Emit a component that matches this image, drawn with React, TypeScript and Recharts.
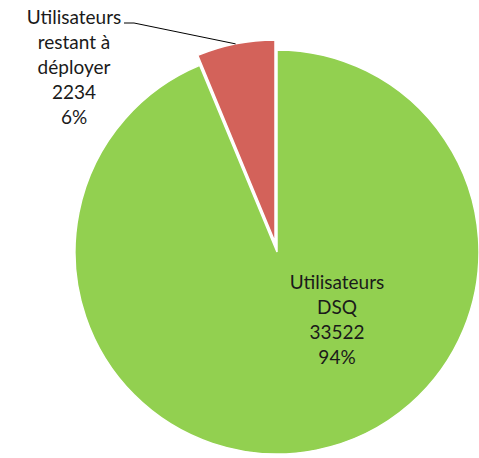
import { Cell, Pie, PieChart } from 'recharts'

const labelLines = [['Utilisateurs', 'DSQ'], ['Utilisateurs', 'restant à', 'déployer']]
const values = [33522, 2234]
const percents = ['94%', '6%']
const colors = ['#92D050', '#D3625A']

const data = labelLines.map((lines, i) => ({
  name: lines.join(' '),
  lines,
  value: values[i],
  percent: percents[i]
}))

const FONT = 'Lato, sans-serif'
const SIZE = 19
const LINE = 25

function GreenLabel(props: any) {
  if (props.index !== 0) return null
  const { cx, cy, payload } = props
  const x = cx + 60
  const y0 = cy + 37
  const rows = [...payload.lines, String(payload.value), payload.percent]
  return (
    <text x={x} y={y0} textAnchor="middle" fontFamily={FONT} fontSize={SIZE} fill="#1a1a1a">
      {rows.map((r: string, i: number) => (
        <tspan key={i} x={x} y={y0 + i * LINE}>{r}</tspan>
      ))}
    </text>
  )
}

function RedLabel(props: any) {
  if (props.index !== 1) return null
  const { cx, cy, midAngle, outerRadius, payload } = props
  const rad = (Math.PI / 180) * midAngle
  const ex = cx + outerRadius * Math.cos(rad)
  const ey = cy - outerRadius * Math.sin(rad)
  const x = 74
  const y0 = 24
  const rows = [...payload.lines, String(payload.value), payload.percent]
  return (
    <g>
      <polyline points={`124,23 134,23 ${ex},${ey}`} fill="none" stroke="#000" strokeWidth={1} />
      <text x={x} y={y0} textAnchor="middle" fontFamily={FONT} fontSize={SIZE} fill="#1a1a1a">
        {rows.map((r: string, i: number) => (
          <tspan key={i} x={x} y={y0 + i * LINE}>{r}</tspan>
        ))}
      </text>
    </g>
  )
}

export default function App() {
  return (
    <div style={{ position: 'absolute', left: 0, top: 0, width: 479, height: 458, background: '#fff' }}>
      <PieChart width={479} height={458} margin={{ top: 0, right: 0, bottom: 0, left: 0 }}>
        <Pie
          data={data}
          dataKey="value"
          cx={277}
          cy={252}
          outerRadius={202}
          startAngle={90}
          endAngle={-270}
          stroke="#fff"
          strokeWidth={1.5}
          label={GreenLabel}
          labelLine={false}
          isAnimationActive={false}
        >
          {data.map((d, i) => (
            <Cell key={d.name} fill={i === 0 ? colors[0] : 'none'} stroke={i === 0 ? '#fff' : 'none'} />
          ))}
        </Pie>
        <Pie
          data={data}
          dataKey="value"
          cx={275}
          cy={242}
          outerRadius={202}
          startAngle={90}
          endAngle={-270}
          stroke="#fff"
          strokeWidth={1.5}
          label={RedLabel}
          labelLine={false}
          isAnimationActive={false}
        >
          {data.map((d, i) => (
            <Cell key={d.name} fill={i === 1 ? colors[1] : 'none'} stroke={i === 1 ? '#fff' : 'none'} />
          ))}
        </Pie>
      </PieChart>
    </div>
  )
}
